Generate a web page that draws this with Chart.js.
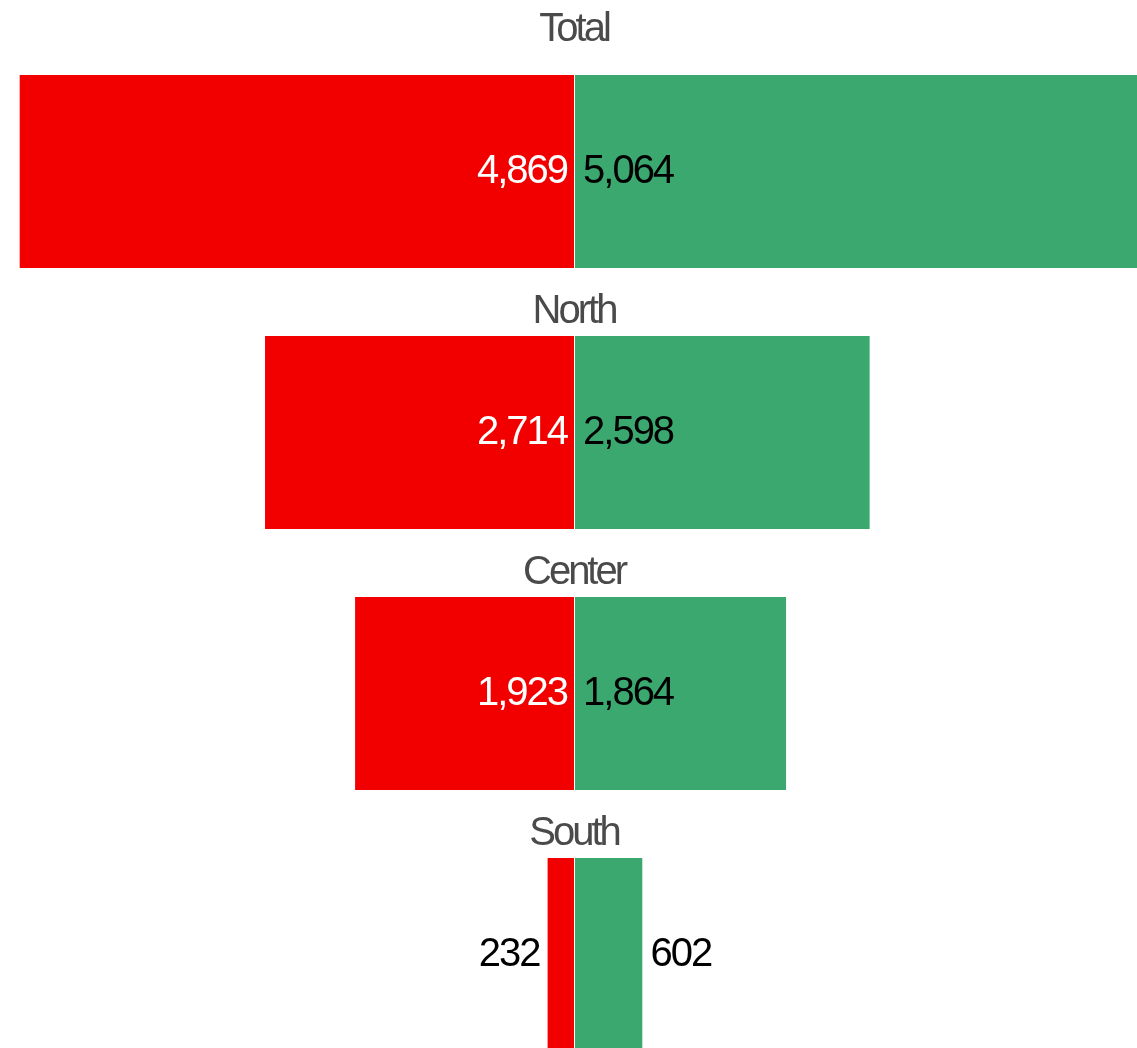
<!DOCTYPE html>
<html>
<head>
<meta charset="utf-8">
<title>Total / North / Center / South</title>
<script src="https://cdn.jsdelivr.net/npm/chart.js@4"></script>
<style>
  html, body { margin: 0; padding: 0; overflow: hidden; background: #fff; }
  canvas { display: block; }
</style>
</head>
<body>
<canvas id="grafico" width="1137" height="1090"></canvas>
<script>
// data
const regions = ["Total", "North", "Center", "South"];
const lossValues = [4869, 2714, 1923, 232];
const gainValues = [5064, 2598, 1864, 602];

const fmt = (v) => Math.abs(v).toLocaleString("en-US");

// value labels + region titles drawn from the bar elements
const barLabels = {
  id: "barLabels",
  afterDatasetsDraw(chart) {
    const ctx = chart.ctx;
    ctx.save();
    ctx.textBaseline = "middle";

    // values
    ctx.font = "40px 'Liberation Sans', Arial, sans-serif";
    ctx.letterSpacing = "-2px";
    chart.data.datasets.forEach((ds, di) => {
      const meta = chart.getDatasetMeta(di);
      meta.data.forEach((bar, i) => {
        const txt = fmt(ds.data[i]);
        const w = ctx.measureText(txt).width;
        const len = Math.abs(bar.x - bar.base);
        const left = bar.x < bar.base;
        const inside = w + 16 < len;
        if (inside) {
          ctx.fillStyle = left ? "#ffffff" : "#000000";
          ctx.textAlign = left ? "right" : "left";
          ctx.fillText(txt, left ? bar.base - 7 : bar.base + 9, bar.y);
        } else {
          ctx.fillStyle = "#000000";
          ctx.textAlign = left ? "right" : "left";
          ctx.fillText(txt, left ? bar.x - 8 : bar.x + 8, bar.y);
        }
      });
    });

    // region titles above each pair of bars
    ctx.font = "40px 'Liberation Sans', Arial, sans-serif";
    ctx.letterSpacing = "-3px";
    ctx.fillStyle = "#4a4a4a";
    ctx.textAlign = "center";
    const cx = chart.scales.x.getPixelForValue(0);
    chart.getDatasetMeta(0).data.forEach((bar, i) => {
      const top = bar.y - bar.height / 2;
      ctx.fillText(chart.data.labels[i], cx, top - (i === 0 ? 45 : 24));
    });
    ctx.restore();
  },
};

const config_grafico = {
  type: "bar",
  data: {
    labels: regions,
    datasets: [
      {
        label: "Loss",
        data: lossValues.map((v) => -v),
        backgroundColor: "#F20000",
        borderWidth: 0,
      },
      {
        label: "Gain",
        data: gainValues,
        backgroundColor: "#3AA86F",
        borderColor: "#ffffff",
        borderWidth: { left: 1, right: 0, top: 0, bottom: 0 },
        borderSkipped: false,
      },
    ],
  },
  options: {
    indexAxis: "y",
    responsive: false,
    animation: false,
    devicePixelRatio: 1,
    layout: { padding: { top: 41, bottom: 5, left: 0, right: 0 } },
    categoryPercentage: 0.74,
    barPercentage: 1,
    scales: {
      x: { display: false, stacked: true, min: -5042, max: 4945 },
      y: { display: false, stacked: true },
    },
    plugins: {
      legend: { display: false },
      tooltip: { enabled: false },
    },
  },
  plugins: [barLabels],
};

const myChart = new Chart(document.getElementById("grafico"), config_grafico);
</script>
</body>
</html>
